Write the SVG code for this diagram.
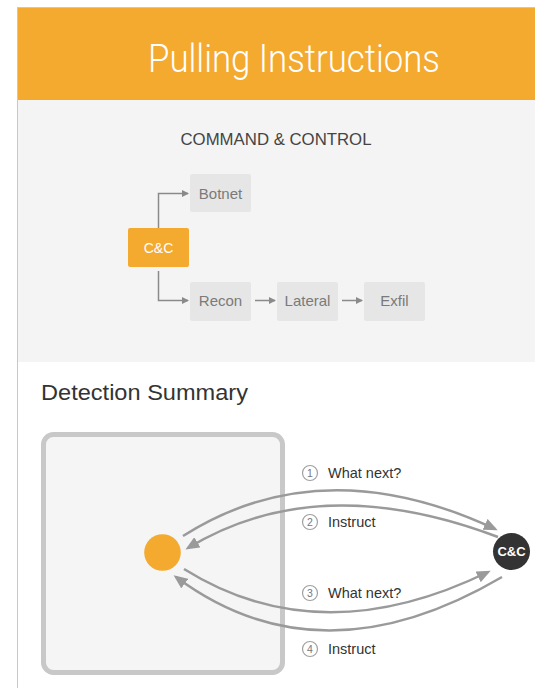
<svg xmlns="http://www.w3.org/2000/svg" width="535" height="688" viewBox="0 0 535 688">
  <style>
    .sans { font-family: "Liberation Sans", Arial, sans-serif; }
    .node { fill: #E6E6E6; }
    .nodeText { font-family: "Liberation Sans", Arial, sans-serif; font-size: 15px; fill: #7A7A7A; text-anchor: middle; }
    .small { fill: none; stroke: #8A8A8A; stroke-width: 1.5; }
    .big { fill: none; stroke: #9A9A9A; stroke-width: 2.5; }
    .num { fill: #FFFFFF; stroke: #A0A0A0; stroke-width: 1.2; }
    .numText { font-family: "Liberation Sans", Arial, sans-serif; font-size: 10.5px; fill: #777; text-anchor: middle; }
    .lbl { font-family: "Liberation Sans", Arial, sans-serif; font-size: 14.5px; fill: #333; }
  </style>
  <defs>
    <marker id="sArrow" markerUnits="userSpaceOnUse" markerWidth="7" markerHeight="7" refX="6" refY="3.5" orient="auto">
      <path d="M0,0 L7,3.5 L0,7 z" fill="#8A8A8A"/>
    </marker>
    <marker id="bArrow" markerUnits="userSpaceOnUse" markerWidth="14" markerHeight="12" refX="11" refY="6" orient="auto">
      <path d="M0,0 L14,6 L0,12 z" fill="#9A9A9A"/>
    </marker>
  </defs>

  <!-- page background -->
  <rect x="0" y="0" width="535" height="688" fill="#FFFFFF"/>
  <rect x="17" y="100" width="518" height="262" fill="#F4F4F4"/>
  <rect x="17" y="8" width="518" height="92" fill="#F4A92F"/>
  <line x1="17.5" y1="8" x2="17.5" y2="688" stroke="#C8C8C8" stroke-width="1"/>
  <line x1="17" y1="7.5" x2="535" y2="7.5" stroke="#C8C8C8" stroke-width="1"/>

  <g id="title">
    <text x="294" y="72" font-family="Roboto, 'Liberation Sans', sans-serif" font-weight="300" font-size="38" fill="#FFFFFF" text-anchor="middle" textLength="292" lengthAdjust="spacingAndGlyphs">Pulling Instructions</text>
  </g>

  <g id="cc-heading">
    <text x="276" y="145" class="sans" font-size="16" fill="#444" text-anchor="middle" textLength="191" lengthAdjust="spacingAndGlyphs">COMMAND &amp; CONTROL</text>
  </g>

  <!-- upper connectors -->
  <g id="connectors-top">
    <path class="small" d="M158.5,228 V193.5 H188" marker-end="url(#sArrow)"/>
    <path class="small" d="M158.5,271 V300.5 H188" marker-end="url(#sArrow)"/>
    <path class="small" d="M255,300.5 H275" marker-end="url(#sArrow)"/>
    <path class="small" d="M342,300.5 H362" marker-end="url(#sArrow)"/>
  </g>

  <g id="node-cc">
    <rect x="128" y="228" width="61" height="39" rx="2" fill="#F4A92F"/>
    <text x="158.5" y="252.5" class="sans" font-size="14" fill="#FFFFFF" text-anchor="middle">C&amp;C</text>
  </g>
  <g id="node-botnet">
    <rect class="node" x="190" y="174" width="61" height="38" rx="2"/>
    <text class="nodeText" x="220.5" y="198.5">Botnet</text>
  </g>
  <g id="node-recon">
    <rect class="node" x="190" y="282" width="61" height="39" rx="2"/>
    <text class="nodeText" x="220.5" y="306">Recon</text>
  </g>
  <g id="node-lateral">
    <rect class="node" x="277" y="282" width="61" height="39" rx="2"/>
    <text class="nodeText" x="307.5" y="306">Lateral</text>
  </g>
  <g id="node-exfil">
    <rect class="node" x="364" y="282" width="61" height="39" rx="2"/>
    <text class="nodeText" x="394.5" y="306">Exfil</text>
  </g>

  <g id="detection-heading">
    <text x="41" y="400" class="sans" font-size="22" fill="#333" textLength="207" lengthAdjust="spacingAndGlyphs">Detection Summary</text>
  </g>

  <g id="network-box">
    <rect x="43.5" y="434.5" width="239" height="238" rx="10" fill="#F5F5F5" stroke="#C8C8C8" stroke-width="5"/>
  </g>

  <g id="connectors-bottom">
    <path class="big" d="M183,536 Q322,448 495,529" marker-end="url(#bArrow)"/>
    <path class="big" d="M498,537 Q318,469 188,548" marker-end="url(#bArrow)"/>
    <path class="big" d="M184,569 Q320,654 488,572" marker-end="url(#bArrow)"/>
    <path class="big" d="M502,577 Q320,684 176,577" marker-end="url(#bArrow)"/>
  </g>

  <g id="host">
    <circle cx="162.5" cy="552.5" r="18.3" fill="#F4A92F"/>
  </g>

  <g id="cc-server">
    <circle cx="511.5" cy="551.5" r="18.5" fill="#333333"/>
    <text x="511.5" y="556" class="sans" font-size="13" font-weight="bold" fill="#FFFFFF" text-anchor="middle">C&amp;C</text>
  </g>

  <g id="label-1">
    <circle class="num" cx="310" cy="473" r="7.5"/>
    <text class="numText" x="310" y="476.7">1</text>
    <text class="lbl" x="328" y="478">What next?</text>
  </g>
  <g id="label-2">
    <circle class="num" cx="310" cy="522" r="7.5"/>
    <text class="numText" x="310" y="525.7">2</text>
    <text class="lbl" x="328" y="527">Instruct</text>
  </g>
  <g id="label-3">
    <circle class="num" cx="310" cy="593" r="7.5"/>
    <text class="numText" x="310" y="596.7">3</text>
    <text class="lbl" x="328" y="598">What next?</text>
  </g>
  <g id="label-4">
    <circle class="num" cx="310" cy="649" r="7.5"/>
    <text class="numText" x="310" y="652.7">4</text>
    <text class="lbl" x="328" y="654">Instruct</text>
  </g>
</svg>
